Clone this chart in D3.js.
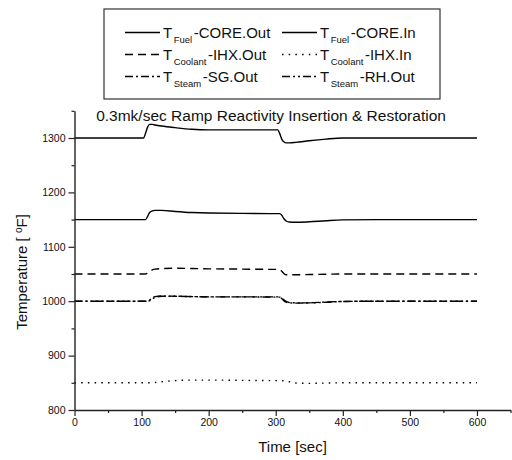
<!DOCTYPE html>
<html>
<head>
<meta charset="utf-8">
<script src="https://cdn.jsdelivr.net/npm/d3@7/dist/d3.min.js"></script>
<style>
  html, body { margin: 0; padding: 0; background: #fff; }
  svg { display: block; font-family: Arial, "Liberation Sans", sans-serif; }
</style>
</head>
<body>
<svg id="chart" width="512" height="460"></svg>
<script>
// Time samples [sec] shared by every trace
const timeSec = [0, 103, 106, 109, 112, 116, 120, 130, 150, 175, 200, 250, 300, 303, 306, 309, 312, 316, 320, 330, 350, 375, 400, 450, 500, 600];

// Temperatures [°F] at each time sample
const fuelCoreOut = [1300, 1300, 1309, 1320, 1325, 1325, 1324, 1322, 1319, 1316, 1315, 1315, 1315, 1315, 1308, 1298, 1293, 1291, 1291, 1292, 1295, 1298, 1300, 1300, 1300, 1300];
const fuelCoreIn = [1150, 1150, 1150, 1156, 1163, 1166, 1167, 1167, 1165, 1163, 1162, 1161.5, 1161, 1161, 1161, 1158, 1152, 1147, 1145.5, 1145, 1146, 1148, 1149.5, 1150, 1150, 1150];
const coolantIhxOut = [1050, 1050, 1050, 1052, 1055, 1057.5, 1059, 1060, 1060.5, 1060, 1059.5, 1059, 1058.5, 1058.5, 1058, 1055, 1051, 1048.5, 1048.5, 1048.5, 1049, 1049.5, 1050, 1050, 1050, 1050];
const coolantIhxIn = [850, 850, 850, 850, 850, 850, 850.5, 852, 854, 855, 855, 854.5, 854, 854, 854, 854, 853.5, 853, 852, 849.5, 849, 849.5, 850, 850, 850, 850];
const steamSgOut = [1000, 1000, 1000, 1000, 1002, 1006, 1008.5, 1009.5, 1009, 1008.5, 1008, 1008, 1008, 1008, 1007.5, 1005, 1001, 998, 997, 996.5, 997, 998.5, 999.5, 1000, 1000, 1000];
const steamRhOut = [1000, 1000, 1000, 1000, 1001, 1004, 1007, 1009, 1009, 1008.5, 1008, 1008, 1007.5, 1007.5, 1007.5, 1006, 1002.5, 999, 997.5, 997, 997, 998, 999.5, 1000, 1000, 1000];

// Axis ticks
const xMajorTicks = [0, 100, 200, 300, 400, 500, 600];
const xMinorTicks = [50, 150, 250, 350, 450, 550, 650];
const yMajorTicks = [800, 900, 1000, 1100, 1200, 1300];
const yMinorTicks = [850, 950, 1050, 1150, 1250, 1350];

const titleText = "0.3mk/sec Ramp Reactivity Insertion & Restoration";

const series = [
  { base: "T", sub: "Fuel", rest: "-CORE.Out", values: fuelCoreOut, dash: null, width: 1.4 },
  { base: "T", sub: "Fuel", rest: "-CORE.In", values: fuelCoreIn, dash: null, width: 1.4 },
  { base: "T", sub: "Coolant", rest: "-IHX.Out", values: coolantIhxOut, dash: "8,5", width: 1.4 },
  { base: "T", sub: "Coolant", rest: "-IHX.In", values: coolantIhxIn, dash: "1.5,5.2", width: 1.4 },
  { base: "T", sub: "Steam", rest: "-SG.Out", values: steamSgOut, dash: "8,3,2,3", width: 1.4 },
  { base: "T", sub: "Steam", rest: "-RH.Out", values: steamRhOut, dash: "8,3,2,3,2,3", width: 1.4 }
];

const svg = d3.select("#chart");

const x = d3.scaleLinear().domain([0, 650]).range([74.5, 510.5]);
const y = d3.scaleLinear().domain([800, 1350]).range([410, 110.8]);

const plot = svg.append("g");

// Traces
const line = d3.line()
  .x((d, i) => x(timeSec[i]))
  .y(d => y(d))
  .curve(d3.curveMonotoneX);

series.forEach(s => {
  plot.append("path")
    .datum(s.values)
    .attr("d", line)
    .attr("fill", "none")
    .attr("stroke", "#000")
    .attr("stroke-width", s.width)
    .attr("stroke-dasharray", s.dash);
});

// X axis
const xAxis = svg.append("g").attr("transform", `translate(0,${y(800)})`);
xAxis.call(d3.axisBottom(x).tickValues(xMajorTicks).tickFormat(d3.format("d"))
  .tickSize(6).tickSizeOuter(0).tickPadding(3));
xAxis.append("g").call(d3.axisBottom(x).tickValues(xMinorTicks).tickSize(3).tickFormat(""))
  .select(".domain").remove();
xAxis.selectAll(".domain").attr("stroke", "#222").attr("stroke-width", 1.4);
xAxis.selectAll(".tick line").attr("stroke", "#222").attr("stroke-width", 1.2);
xAxis.selectAll(".tick text").attr("font-size", "10.5px").attr("fill", "#111")
  .attr("font-family", "Arial, 'Liberation Sans', sans-serif");

// Y axis
const yAxis = svg.append("g").attr("transform", `translate(${x(0)},0)`);
yAxis.call(d3.axisLeft(y).tickValues(yMajorTicks).tickFormat(d3.format("d"))
  .tickSize(6).tickSizeOuter(0).tickPadding(3));
yAxis.append("g").call(d3.axisLeft(y).tickValues(yMinorTicks).tickSize(3).tickFormat(""))
  .select(".domain").remove();
yAxis.selectAll(".domain").attr("stroke", "#222").attr("stroke-width", 1.4);
yAxis.selectAll(".tick line").attr("stroke", "#222").attr("stroke-width", 1.2);
yAxis.selectAll(".tick text").attr("font-size", "10.5px").attr("fill", "#111")
  .attr("font-family", "Arial, 'Liberation Sans', sans-serif");

// Title
svg.append("text")
  .attr("x", 271).attr("y", 121)
  .attr("text-anchor", "middle")
  .attr("font-size", "15.5px")
  .attr("fill", "#111")
  .text(titleText);

// Axis titles
svg.append("text")
  .attr("x", (x(0) + x(650)) / 2).attr("y", 452)
  .attr("text-anchor", "middle")
  .attr("font-size", "15px")
  .attr("fill", "#111")
  .text("Time [sec]");

const yTitle = svg.append("text")
  .attr("transform", "translate(27,272) rotate(-90)")
  .attr("text-anchor", "middle")
  .attr("font-size", "15px")
  .attr("fill", "#111");
yTitle.append("tspan").text("Temperature [ ");
yTitle.append("tspan").attr("dy", -5).attr("font-size", "10px").text("o");
yTitle.append("tspan").attr("dy", 5).text("F]");

// Legend
const legend = svg.append("g");
legend.append("rect")
  .attr("x", 104).attr("y", 9).attr("width", 336).attr("height", 90)
  .attr("fill", "none").attr("stroke", "#333").attr("stroke-width", 1.2);

const colX = [125, 282];
const rowY = [38, 60, 82];
series.forEach((s, i) => {
  const cx = colX[i % 2];
  const ry = rowY[Math.floor(i / 2)];
  legend.append("line")
    .attr("x1", cx).attr("x2", cx + 35)
    .attr("y1", ry - 5.5).attr("y2", ry - 5.5)
    .attr("stroke", "#000").attr("stroke-width", s.width)
    .attr("stroke-dasharray", s.dash);
  const t = legend.append("text")
    .attr("x", cx + 38).attr("y", ry)
    .attr("font-size", "15px")
    .attr("fill", "#111");
  t.append("tspan").text(s.base);
  t.append("tspan").attr("dx", 1.5).attr("dy", 5).attr("font-size", "9.5px").text(s.sub);
  t.append("tspan").attr("dx", 1.5).attr("dy", -5).text(s.rest);
});
</script>
</body>
</html>
